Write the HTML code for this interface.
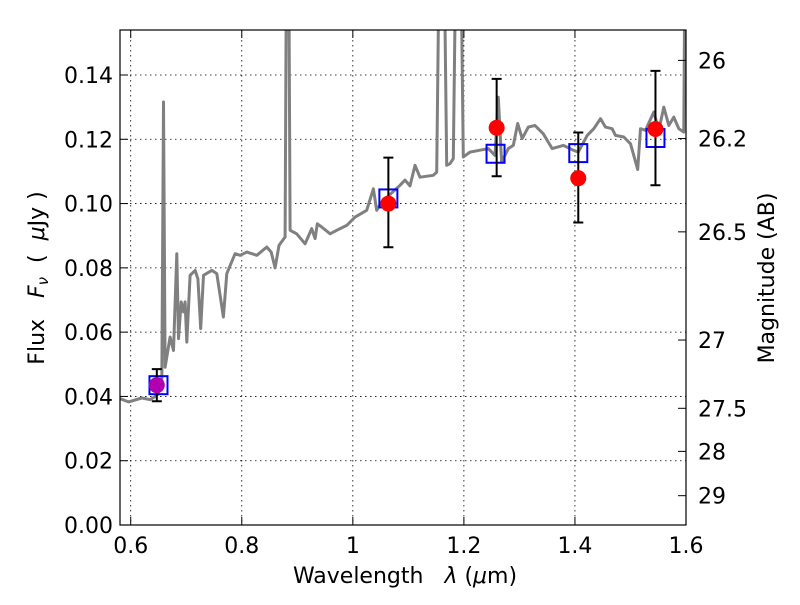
<!DOCTYPE html>
<html><head><meta charset="utf-8"><style>
body{margin:0;background:#fff;}
svg text{font-family:"DejaVu Sans","Liberation Sans",sans-serif;fill:#000;}
</style></head><body>
<svg id="chart" width="800" height="600" xmlns="http://www.w3.org/2000/svg">
<rect width="800" height="600" fill="#fff"/>
<g id="grid"></g>
<g id="spec"></g>
<g id="marks"></g>
<g id="axes"></g>
<text x="405" y="583" font-size="22" text-anchor="middle">Wavelength&#160;&#160;&#160;<tspan font-style="italic">λ</tspan> (<tspan font-style="italic">μ</tspan>m)</text>
<text transform="translate(44,278) rotate(-90)" font-size="22" text-anchor="middle">Flux&#160;&#160;&#160;<tspan font-style="italic">F</tspan><tspan font-style="italic" font-size="15" dy="4">ν</tspan><tspan dy="-4">&#160;&#160;(&#160;&#160;</tspan><tspan font-style="italic">μ</tspan>Jy )</text>
<text transform="translate(774,278) rotate(-90)" font-size="22" text-anchor="middle">Magnitude (AB)</text>
</svg>
<script>
const specWave=[0.581,0.596,0.620,0.635,0.647,0.656,0.659,0.662,0.671,0.677,0.683,0.686,0.691,0.695,0.698,0.701,0.707,0.716,0.721,0.726,0.731,0.746,0.755,0.767,0.773,0.788,0.797,0.809,0.827,0.845,0.853,0.860,0.867,0.878,0.881,0.884,0.887,0.899,0.914,0.926,0.932,0.936,0.944,0.959,0.971,0.989,1.004,1.025,1.037,1.043,1.052,1.085,1.094,1.103,1.112,1.121,1.145,1.151,1.157,1.163,1.169,1.175,1.181,1.187,1.193,1.199,1.211,1.229,1.244,1.256,1.262,1.268,1.280,1.289,1.297,1.305,1.316,1.328,1.343,1.359,1.379,1.397,1.406,1.422,1.434,1.446,1.455,1.467,1.473,1.488,1.500,1.513,1.518,1.527,1.542,1.551,1.560,1.569,1.578,1.587,1.596,1.599];
const specFlux=[0.0393,0.0383,0.0395,0.0390,0.0403,0.0435,0.1316,0.0491,0.0585,0.0543,0.0844,0.0580,0.0694,0.0663,0.0694,0.0569,0.0777,0.0792,0.0766,0.0611,0.0777,0.0792,0.0782,0.0647,0.0782,0.0844,0.0839,0.0849,0.0839,0.0865,0.0849,0.0800,0.0870,0.0896,0.2,0.2,0.0917,0.0906,0.0875,0.0922,0.0891,0.0937,0.0927,0.0906,0.0917,0.0932,0.0958,0.0979,0.1046,0.0979,0.1005,0.1057,0.1073,0.1055,0.1119,0.1082,0.1088,0.1098,0.2,0.2,0.1119,0.1124,0.1140,0.2,0.2,0.1145,0.1160,0.1166,0.1171,0.1150,0.1331,0.1129,0.1171,0.1181,0.1249,0.1202,0.1238,0.1243,0.1217,0.1171,0.1181,0.1166,0.1160,0.1212,0.1233,0.1264,0.1238,0.1233,0.1212,0.1207,0.1186,0.1106,0.1233,0.1228,0.1285,0.1228,0.1300,0.1243,0.1269,0.1233,0.1222,0.2];
const photWave=[0.647,1.064,1.259,1.406,1.545];
const photFlux=[0.0435,0.1000,0.1236,0.1079,0.1232];
const errLow=[0.0385,0.0864,0.1085,0.0941,0.1057];
const errHigh=[0.0485,0.1143,0.1388,0.1221,0.1413];
const modelWave=[0.650,1.064,1.257,1.406,1.545];
const modelFlux=[0.0435,0.1016,0.1155,0.1157,0.1204];
const xTicks=[0.6,0.8,1.0,1.2,1.4,1.6];
const xTickLabels=["0.6","0.8","1","1.2","1.4","1.6"];
const yTicks=[0,0.02,0.04,0.06,0.08,0.10,0.12,0.14];
const yTickLabels=["0.00","0.02","0.04","0.06","0.08","0.10","0.12","0.14"];
const magTicks=[26,26.2,26.5,27,27.5,28,29];
const magTickLabels=["26","26.2","26.5","27","27.5","28","29"];

const L=120,R=686,T=30,B=525;
const X0=0.5807,X1=1.6,Y0=0,Y1=0.1540;
const xs=w=>L+(w-X0)/(X1-X0)*(R-L);
const ys=f=>B-(f-Y0)/(Y1-Y0)*(B-T);
const magToFlux=m=>Math.pow(10,(23.9-m)/2.5);
const NS="http://www.w3.org/2000/svg";
function mk(tag,attrs,parent){const e=document.createElementNS(NS,tag);for(const k in attrs)e.setAttribute(k,attrs[k]);parent.appendChild(e);return e;}
const grid=document.getElementById('grid'),spec=document.getElementById('spec'),marks=document.getElementById('marks'),axes=document.getElementById('axes');

xTicks.forEach((t,i)=>{const x=xs(t);
 const g=mk('line',{x1:x,x2:x,y1:T,y2:B,stroke:'#000','stroke-width':0.8,'stroke-dasharray':'1.5,3.5'},grid);
 
 
 const tk=mk('path',{d:`M${x},${B}v-8M${x},${T}v8`,stroke:'#000','stroke-width':1},axes);
 
 
 const lb=mk('text',{x:x,y:B+28,'font-size':22,'text-anchor':'middle'},axes);lb.textContent=xTickLabels[i];
 
 
});
yTicks.forEach((t,i)=>{const y=ys(t);
 if(t>0){const g=mk('line',{x1:L,x2:R,y1:y,y2:y,stroke:'#000','stroke-width':0.8,'stroke-dasharray':'1.5,3.5'},grid);
 
 }
 const tk=mk('path',{d:`M${L},${y}h8`,stroke:'#000','stroke-width':1},axes);
 
 
 const lb=mk('text',{x:L-7,y:y+8,'font-size':22,'text-anchor':'end'},axes);lb.textContent=yTickLabels[i];
 
 
});
magTicks.forEach((m,i)=>{const y=ys(magToFlux(m));
 const tk=mk('path',{d:`M${R},${y}h-8`,stroke:'#000','stroke-width':1},axes);
 
 
 const lb=mk('text',{x:R+12,y:y+8,'font-size':22},axes);lb.textContent=magTickLabels[i];
 
 
});

const cp=mk('clipPath',{id:'clip'},spec);mk('rect',{x:L,y:T,width:R-L,height:B-T},cp);
let d='';specWave.forEach((w,i)=>{d+=(i?'L':'M')+xs(w).toFixed(1)+','+ys(specFlux[i]).toFixed(1);});
const sp=mk('path',{d:d,fill:'none',stroke:'#808080','stroke-width':3,'stroke-linejoin':'round','clip-path':'url(#clip)'},spec);



modelWave.forEach((w,i)=>{const x=xs(w),y=ys(modelFlux[i]);
 const s=mk('rect',{x:x-9,y:y-9,width:18,height:18,fill:'none',stroke:'#0000ff','stroke-width':2},marks);
 
 
});
photWave.forEach((w,i)=>{const x=xs(w),y=ys(photFlux[i]),y1=ys(errHigh[i]),y2=ys(errLow[i]);
 const e=mk('path',{d:`M${x},${y1}V${y2}M${x-5},${y1}h10M${x-5},${y2}h10`,stroke:'#000','stroke-width':2},marks);
 
 
 const c=mk('circle',{cx:x,cy:y,r:8,fill:i===0?'#b000b0':'#ff0000',stroke:'none'},marks);
 
 
});
const fr=mk('rect',{x:L,y:T,width:R-L,height:B-T,fill:'none',stroke:'#000','stroke-width':1.2},axes);


</script>
</body></html>
